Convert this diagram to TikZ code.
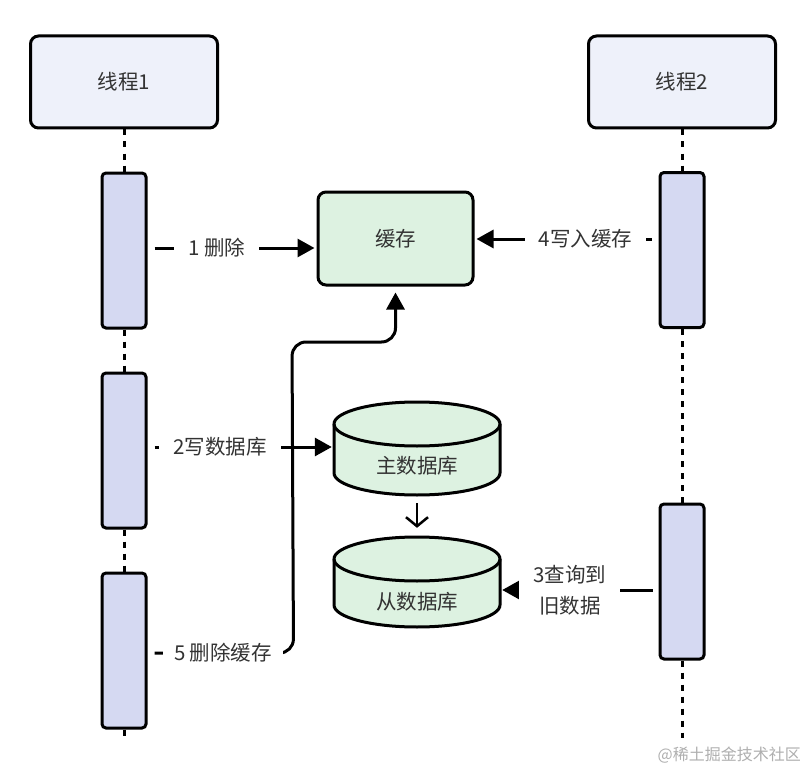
\documentclass[tikz,border=0pt]{standalone}
\usepackage{fontspec}
\setmainfont{Noto Sans CJK SC}
\usetikzlibrary{arrows.meta,calc}
\definecolor{txtc}{HTML}{333333}
\definecolor{thfill}{HTML}{EEF1FA}
\definecolor{barfill}{HTML}{D5D9F2}
\definecolor{grfill}{HTML}{DDF2E1}
\definecolor{wmc}{HTML}{AFAFAF}
\begin{document}
\begin{tikzpicture}[x=1pt,y=-1pt,
  thread/.style={draw,line width=3pt,rounded corners=8pt,fill=thfill,minimum width=187pt,minimum height=92pt,inner sep=0pt,text=txtc},
  bar/.style={draw,line width=3pt,rounded corners=4pt,fill=barfill,minimum width=44pt,minimum height=155pt,inner sep=0pt},
  cachebox/.style={draw,line width=3pt,rounded corners=8pt,fill=grfill,minimum width=155pt,minimum height=93pt,inner sep=0pt,text=txtc},
  cylnode/.style={minimum width=166pt,inner sep=0pt},
  cylfill/.style={draw,line width=3pt,fill=grfill},
  life/.style={line width=3pt,dash pattern=on 6pt off 6pt},
  arr/.style={line width=3pt,-{Triangle[length=17pt,width=18pt]},shorten >=2pt},
  lbl/.style={fill=white,text=txtc,inner xsep=14pt,inner ysep=3pt},
  txt/.style={text=txtc},
  font=\fontsize{20.5}{25}\selectfont]
\fill[white] (0,0) rectangle (807,776);
\path[use as bounding box] (0,0) rectangle (807,776);

% threads
\node[thread] (t1) at (124,82) {线程1};
\node[thread] (t2) at (682,82) {线程2};

% activation bars
\node[bar] (a1) at (124,250.5) {};
\node[bar] (a2) at (124,450.5) {};
\node[bar] (a3) at (124,650.5) {};
\node[bar] (b1) at (682,250) {};
\node[bar] (b2) at (682,581.5) {};

\coordinate (lend1) at (124,738);
\coordinate (lend2) at (682,738);

% lifelines
\draw[life] (t1.south) -- (a1.north);
\draw[life] (a1.south) -- (a2.north);
\draw[life] (a2.south) -- (a3.north);
\draw[life] (a3.south) -- (lend1);
\draw[life] (t2.south) -- (b1.north);
\draw[life] (b1.south) -- (b2.north);
\draw[life] (b2.south) -- (lend2);

% cache
\node[cachebox] (cache) at (395.5,238.5) {缓存};

% master database cylinder
\path[cylfill] (334,424) -- (334,473) arc[start angle=180,end angle=360,x radius=83pt,y radius=22pt]
  -- (500,424) arc[start angle=0,end angle=180,x radius=83pt,y radius=22pt] -- cycle;
\draw[line width=3pt] (334,424) arc[start angle=180,end angle=360,x radius=83pt,y radius=22pt];
\node[cylnode,minimum height=93pt] (master) at (417,448.5) {};
\node[txt] (mastertxt) at (417,466) {主数据库};

% slave database cylinder
\path[cylfill] (334,559) -- (334,605) arc[start angle=180,end angle=360,x radius=83pt,y radius=22pt]
  -- (500,559) arc[start angle=0,end angle=180,x radius=83pt,y radius=22pt] -- cycle;
\draw[line width=3pt] (334,559) arc[start angle=180,end angle=360,x radius=83pt,y radius=22pt];
\node[cylnode,minimum height=90pt] (slave) at (417,582) {};
\node[txt] (slavetxt) at (417,602) {从数据库};

% replication arrow
\draw[line width=2.5pt,-{Straight Barb[length=9pt,width=22pt]}] ([yshift=-8pt]master.south) -- ([yshift=9pt]slave.north);

% 1 delete
\draw[arr,shorten <=7pt] ([yshift=2.5pt]a1.east) -- node[lbl,pos=0.41] (l1) {1 删除} ([yshift=2.5pt]a1.east -| cache.west);
% 4 write cache
\draw[arr,shorten <=7pt] ([yshift=11pt]b1.west) -- node[lbl,pos=0.396] (l4) {4写入缓存} ([yshift=11pt]b1.west -| cache.east);
% 2 write db
\draw[arr,shorten <=7pt] ([yshift=3.5pt]a2.east) -- node[lbl,pos=0.39] (l2) {2写数据库} ([yshift=3.5pt]a2.east -| master.west);
% 3 read old data
\draw[arr,shorten <=6pt] ([yshift=-8.5pt]b2.west) -- node[lbl,pos=0.56,align=center,font=\fontsize{20.5}{31}\selectfont] (l3) {3查询到\\旧数据} ([yshift=-8.5pt]b2.west -| slave.east);
% 5 delete cache
\draw[line width=3pt,rounded corners=14pt,-{Triangle[length=17pt,width=18pt]},shorten >=6pt,shorten <=7pt]
  ([yshift=-2.5pt]a3.east) -- ++(146,0) -- (292,342) -- (cache.south |- 0,342) -- (cache.south);
\node[lbl,inner xsep=11pt] (l5) at (223,653) {5 删除缓存};

% watermark
\node[text=wmc,font=\fontsize{16}{18}\selectfont,anchor=east,inner sep=0pt] (wm) at (801,755) {@稀土掘金技术社区};
\end{tikzpicture}
\end{document}
